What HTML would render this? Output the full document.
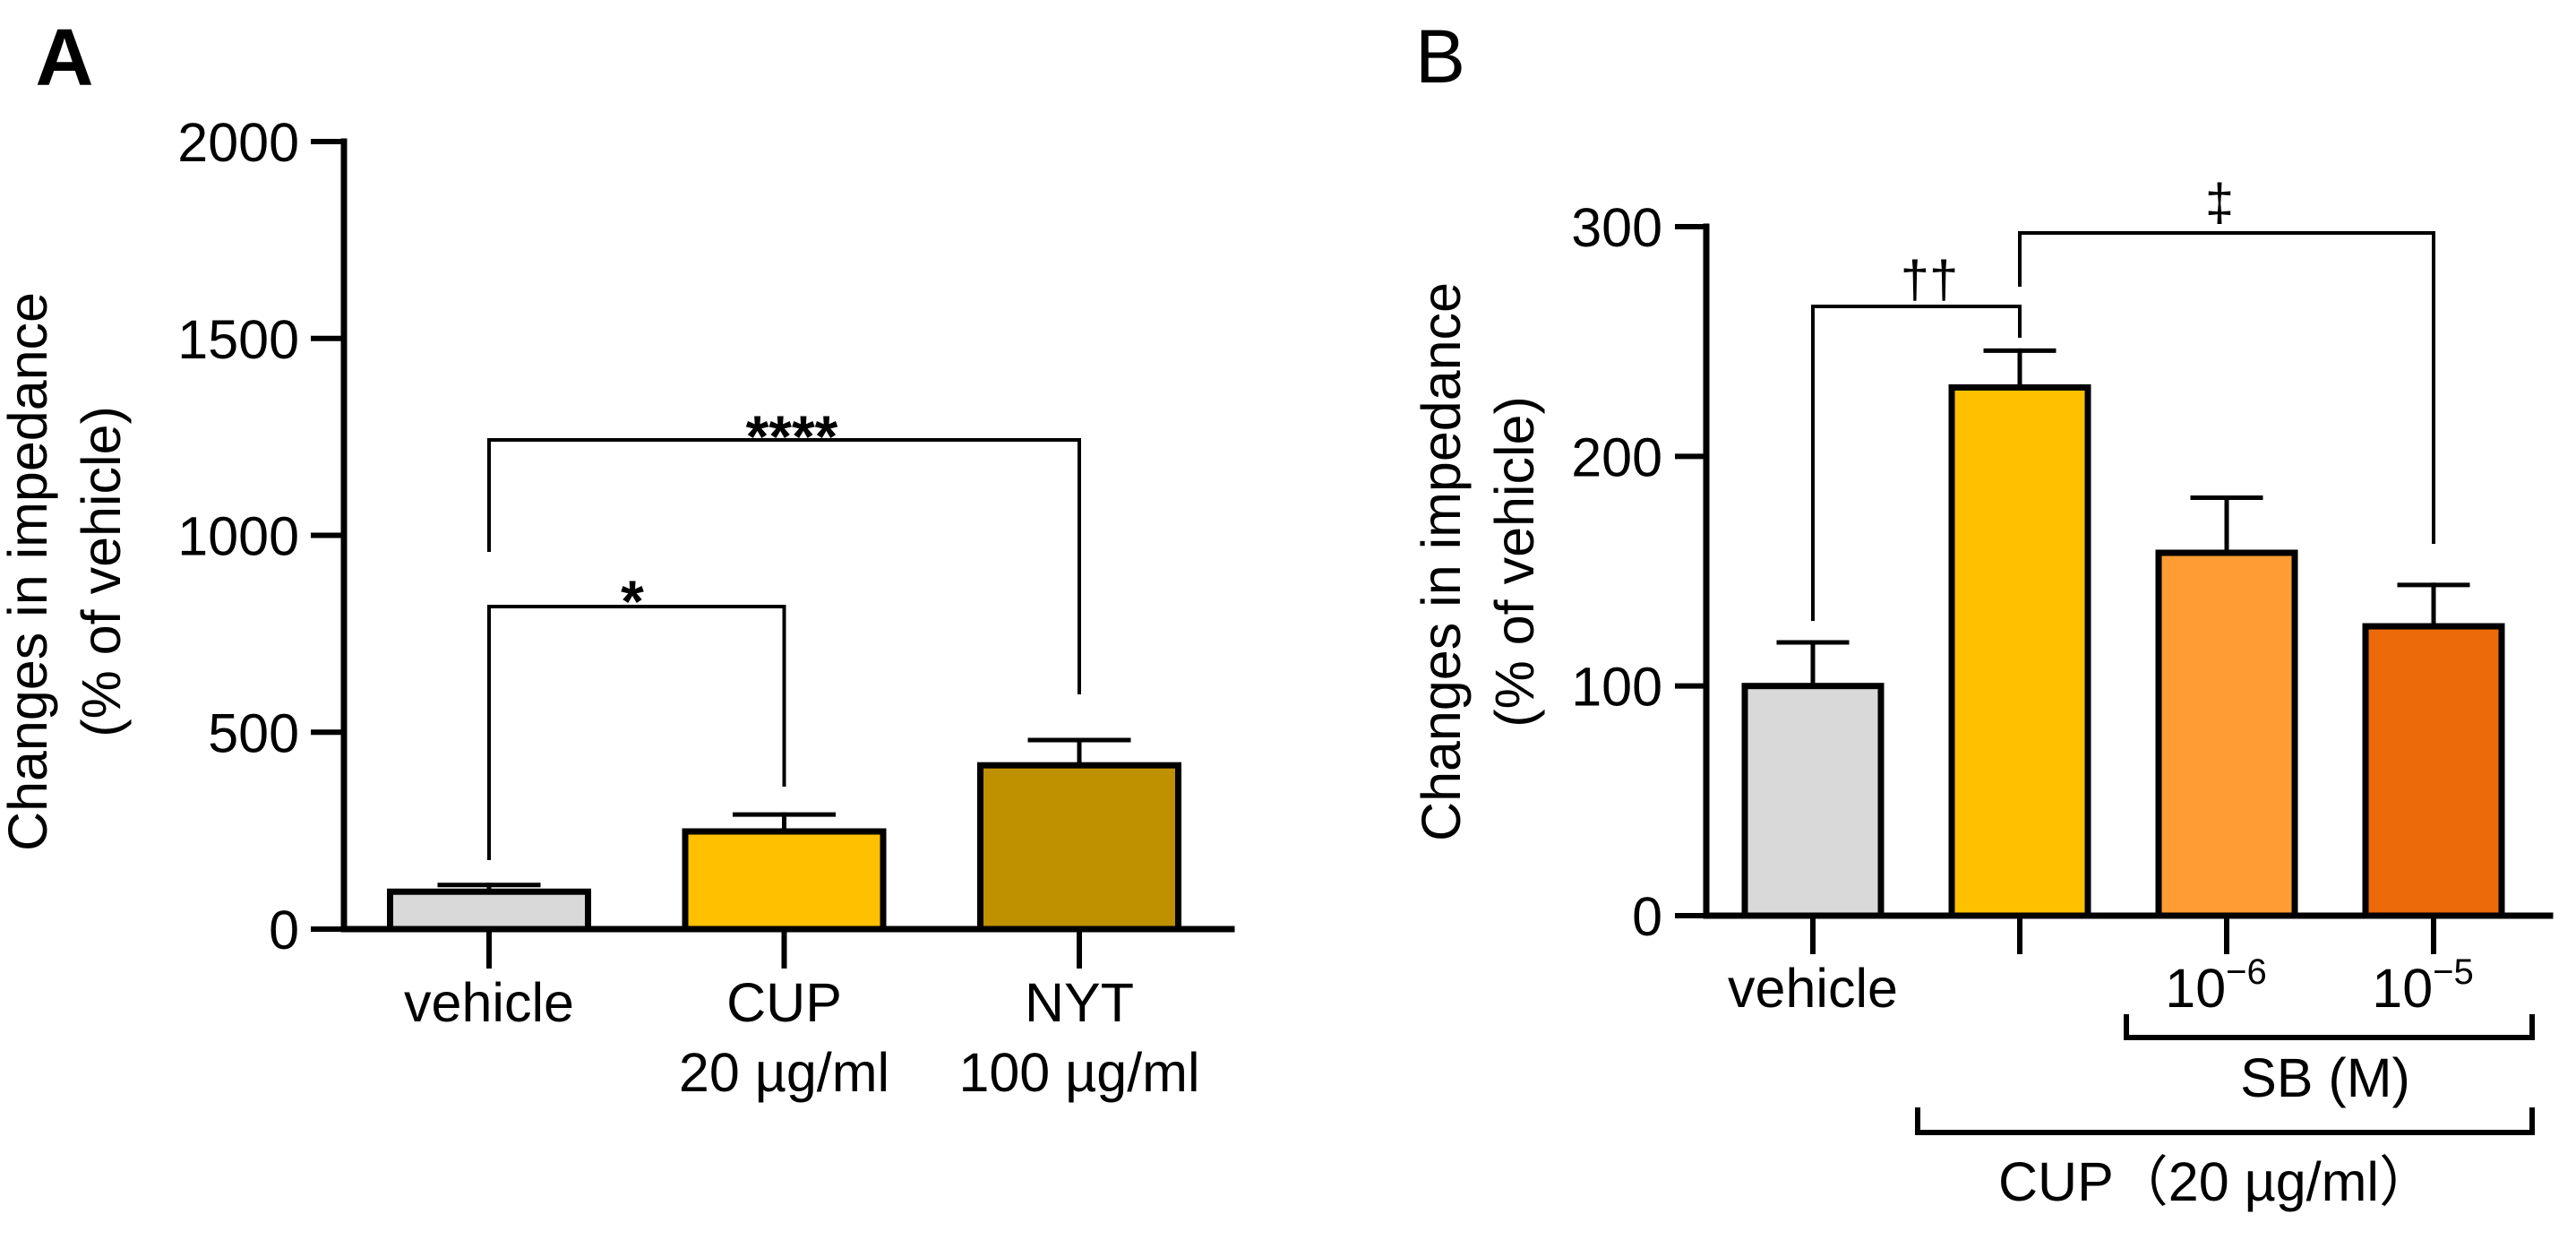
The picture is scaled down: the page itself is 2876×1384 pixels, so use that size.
<!DOCTYPE html>
<html><head><meta charset="utf-8"><style>
html,body{margin:0;padding:0;background:#fff;}
svg{display:block;font-family:"Liberation Sans","Noto Sans CJK JP",sans-serif;}
</style></head><body>
<svg id="fig" width="2876" height="1384" viewBox="0 0 2876 1384" xmlns="http://www.w3.org/2000/svg">
<g id="pa"></g>
<g id="pb"></g>
</svg>
<script>
// Panel A data
const catsA = ["vehicle", "CUP", "NYT"];
const subA = ["", "20 µg/ml", "100 µg/ml"];
const valsA = [95, 248, 416];
const errA = [112, 291, 480];
const colorsA = ["#d9d9d9", "#ffc000", "#bf9000"];
const ticksA = [0, 500, 1000, 1500, 2000];
// Panel B data
const catsB = ["vehicle", "", "10", "10"];
const supB = ["", "", "−6", "−5"];
const valsB = [100, 230, 158, 126];
const errB = [119, 246, 182, 144];
const colorsB = ["#d9d9d9", "#ffc000", "#ff9c33", "#ec6a0a"];
const ticksB = [0, 100, 200, 300];

const FS = 61;
const NS = "http://www.w3.org/2000/svg";
function mk(parent, tag, attrs, text) {
  const e = document.createElementNS(NS, tag);
  for (const k in attrs) e.setAttribute(k, attrs[k]);
  if (text !== undefined) e.textContent = text;
  parent.appendChild(e);
  return e;
}
function line(p, x1, y1, x2, y2, w, name) {
  const l = mk(p, "line", {x1, y1, x2, y2, stroke: "#000", "stroke-width": w, "stroke-linecap": "square"});
  
  
  return l;
}
function txt(p, x, y, s, size, name, anchor, weight) {
  const t = mk(p, "text", {x, y, "font-size": size, "text-anchor": anchor || "middle", "font-weight": weight || "normal", fill: "#000"}, s);
  
  
  return t;
}
function bracket(p, xl, xr, y, yl, yr, name) {
  const path = mk(p, "path", {d: `M${xl},${yl} L${xl},${y} L${xr},${y} L${xr},${yr}`, fill: "none", stroke: "#000", "stroke-width": 4});
  
  
}

// ---------- Panel A ----------
(function(){
  const g = document.getElementById("pa");
  const x0 = 384, xEnd = 1375, y0 = 1037, yTop = 158, vmax = 2000;
  const ys = v => y0 - v / vmax * (y0 - yTop);
  const xc = i => 546 + i * 329.5;
  const bw = 221;
  txt(g, 72, 95, "A", 90, "panel-a-label", "middle", "bold");
  line(g, x0, yTop, x0, y0, 7, "y-axis");
  line(g, x0, y0, xEnd, y0, 7, "x-axis");
  ticksA.forEach(t => {
    line(g, 350, ys(t), x0, ys(t), 6, "y-tick");
    txt(g, 334, ys(t) + 22, String(t), FS, "y-tick-label", "end");
  });
  const yt = mk(g, "text", {transform: "translate(52,638) rotate(-90)", "font-size": FS, "text-anchor": "middle"}, "Changes in impedance");
  
  
  const yt2 = mk(g, "text", {transform: "translate(134,638) rotate(-90)", "font-size": FS, "text-anchor": "middle"}, "(% of vehicle)");
  
  
  valsA.forEach((v, i) => {
    const cx = xc(i);
    line(g, cx, ys(v), cx, ys(errA[i]), 5, "error-bar");
    line(g, cx - 55, ys(errA[i]), cx + 55, ys(errA[i]), 5, "error-cap");
    const r = mk(g, "rect", {x: cx - bw/2, y: ys(v), width: bw, height: y0 - ys(v), fill: colorsA[i], stroke: "#000", "stroke-width": 7});
    
    
    line(g, cx, y0, cx, 1078, 6, "x-tick");
    txt(g, cx, 1140, catsA[i], FS, "x-tick-label");
    if (subA[i]) txt(g, cx, 1218, subA[i], FS, "x-tick-sublabel");
  });
  bracket(g, xc(0), xc(1), 677, 960, 878, "sig-bracket-cup");
  txt(g, 706, 694, "*", 66, "sig-star-cup", "middle", "bold");
  bracket(g, xc(0), xc(2), 491, 616, 775, "sig-bracket-nyt");
  txt(g, 884, 510, "****", 66, "sig-stars-nyt", "middle", "bold");
})();

// ---------- Panel B ----------
(function(){
  const g = document.getElementById("pb");
  const x0 = 1905, xEnd = 2847, y0 = 1022, yTop = 253, vmax = 300;
  const ys = v => y0 - v / vmax * (y0 - yTop);
  const xc = i => 2024 + i * 231;
  const bw = 152;
  txt(g, 1608, 92, "B", 84, "panel-b-label", "middle", "normal");
  line(g, x0, yTop, x0, y0, 7, "y-axis");
  line(g, x0, y0, xEnd, y0, 7, "x-axis");
  ticksB.forEach(t => {
    line(g, 1873, ys(t), x0, ys(t), 6, "y-tick");
    txt(g, 1856, ys(t) + 22, String(t), FS, "y-tick-label", "end");
  });
  const yt = mk(g, "text", {transform: "translate(1630,627) rotate(-90)", "font-size": FS, "text-anchor": "middle"}, "Changes in impedance");
  
  
  const yt2 = mk(g, "text", {transform: "translate(1712,627) rotate(-90)", "font-size": FS, "text-anchor": "middle"}, "(% of vehicle)");
  
  
  valsB.forEach((v, i) => {
    const cx = xc(i);
    line(g, cx, ys(v), cx, ys(errB[i]), 5, "error-bar");
    line(g, cx - 38, ys(errB[i]), cx + 38, ys(errB[i]), 5, "error-cap");
    const r = mk(g, "rect", {x: cx - bw/2, y: ys(v), width: bw, height: y0 - ys(v), fill: colorsB[i], stroke: "#000", "stroke-width": 7});
    
    
    line(g, cx, y0, cx, 1062, 6, "x-tick");
    if (catsB[i]) {
      const t = txt(g, cx - (supB[i] ? 12 : 0), 1124, catsB[i], FS, "x-tick-label");
      if (supB[i]) {
        const ts = mk(t, "tspan", {dy: -26, "font-size": 40}, supB[i]);
        
        
      }
    }
  });
  const sb = mk(g, "path", {d: "M2374,1132 L2374,1158 L2827,1158 L2827,1132", fill: "none", stroke: "#000", "stroke-width": 6});
  
  
  txt(g, 2596, 1224, "SB (M)", FS, "sb-group-label");
  const cb = mk(g, "path", {d: "M2141,1236 L2141,1264 L2827,1264 L2827,1236", fill: "none", stroke: "#000", "stroke-width": 6});
  
  
  txt(g, 2474, 1340, "CUP（20 µg/ml）", FS, "cup-group-label");
  bracket(g, xc(0), xc(1), 342, 693, 377, "sig-bracket-dagger");
  txt(g, 2154, 332, "††", 58, "sig-dagger");
  bracket(g, xc(1), xc(3), 260, 320, 607, "sig-bracket-ddagger");
  txt(g, 2478, 246, "‡", 58, "sig-ddagger");
})();
</script>
</body></html>
